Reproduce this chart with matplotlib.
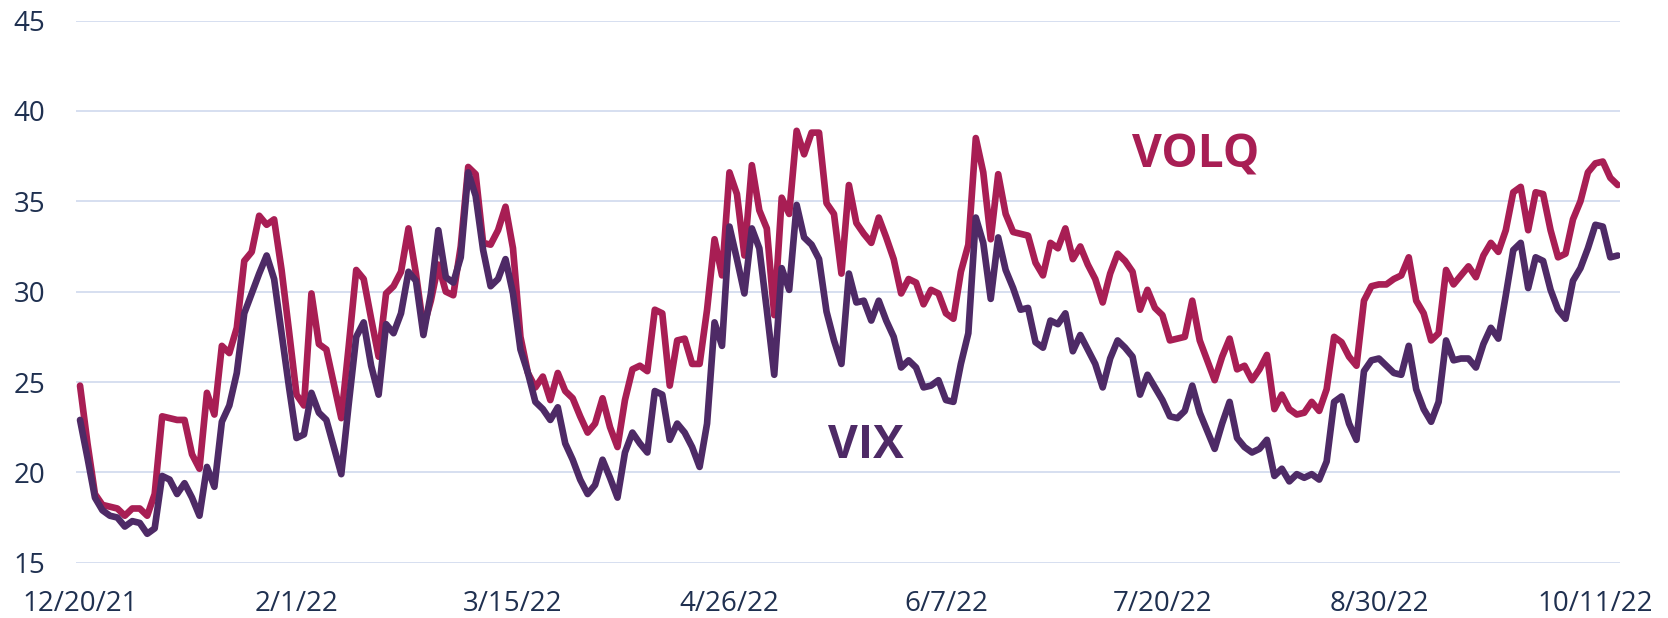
import matplotlib
matplotlib.use("Agg")
import matplotlib.pyplot as plt
import numpy as np

# ---- data (daily closes) ----
tick_labels = ["12/20/21", "2/1/22", "3/15/22", "4/26/22", "6/7/22",
               "7/20/22", "8/30/22", "10/11/22"]
tick_step = 29  # trading days between labelled dates

volq = [
    24.8, 21.6, 18.8, 18.2, 18.1, 18.0, 17.6, 18.0, 18.0, 17.6,
    18.8, 23.1, 23.0, 22.9, 22.9, 21.0, 20.2, 24.4, 23.2, 27.0,
    26.6, 28.0, 31.7, 32.2, 34.2, 33.7, 34.0, 31.2, 27.8, 24.3,
    23.7, 29.9, 27.1, 26.8, 24.9, 23.0, 27.0, 31.2, 30.7, 28.5,
    26.4, 29.9, 30.3, 31.1, 33.5, 31.0, 28.0, 29.5, 31.5, 30.0,
    29.8, 32.5, 36.9, 36.5, 32.7, 32.6, 33.4, 34.7, 32.4, 27.5,
    25.5, 24.7, 25.3, 24.0, 25.5, 24.5, 24.1, 23.1, 22.2, 22.7,
    24.1, 22.5, 21.4, 24.0, 25.7, 25.9, 25.6, 29.0, 28.8, 24.8,
    27.3, 27.4, 26.0, 26.0, 29.0, 32.9, 30.9, 36.6, 35.4, 32.0,
    37.0, 34.5, 33.5, 28.7, 35.2, 34.3, 38.9, 37.6, 38.8, 38.8,
    34.9, 34.3, 31.0, 35.9, 33.8, 33.2, 32.7, 34.1, 33.0, 31.8,
    29.9, 30.7, 30.5, 29.3, 30.1, 29.9, 28.8, 28.5, 31.1, 32.6,
    38.5, 36.6, 32.9, 36.5, 34.3, 33.3, 33.2, 33.1, 31.6, 30.9,
    32.7, 32.4, 33.5, 31.8, 32.5, 31.5, 30.7, 29.4, 31.0, 32.1,
    31.7, 31.1, 29.0, 30.1, 29.1, 28.7, 27.3, 27.4, 27.5, 29.5,
    27.3, 26.2, 25.1, 26.4, 27.4, 25.7, 25.9, 25.1, 25.7, 26.5,
    23.5, 24.3, 23.5, 23.2, 23.3, 23.9, 23.4, 24.6, 27.5, 27.2,
    26.4, 25.9, 29.5, 30.3, 30.4, 30.4, 30.7, 30.9, 31.9, 29.5,
    28.8, 27.3, 27.7, 31.2, 30.4, 30.9, 31.4, 30.8, 32.0, 32.7,
    32.2, 33.4, 35.5, 35.8, 33.4, 35.5, 35.4, 33.4, 31.9, 32.1,
    34.0, 35.0, 36.6, 37.1, 37.2, 36.3, 35.9,
]

vix = [
    22.9, 20.8, 18.6, 17.9, 17.6, 17.5, 17.0, 17.3, 17.2, 16.6,
    16.9, 19.8, 19.6, 18.8, 19.4, 18.6, 17.6, 20.3, 19.2, 22.8,
    23.7, 25.5, 28.8, 29.9, 31.0, 32.0, 30.7, 27.7, 24.7, 21.9,
    22.1, 24.4, 23.3, 22.9, 21.4, 19.9, 23.8, 27.5, 28.3, 25.9,
    24.3, 28.2, 27.7, 28.8, 31.1, 30.6, 27.6, 29.9, 33.4, 30.8,
    30.5, 31.9, 36.6, 35.3, 32.3, 30.3, 30.7, 31.8, 29.9, 26.8,
    25.5, 23.9, 23.5, 22.9, 23.6, 21.6, 20.7, 19.6, 18.8, 19.3,
    20.7, 19.7, 18.6, 21.1, 22.2, 21.6, 21.1, 24.5, 24.3, 21.8,
    22.7, 22.2, 21.4, 20.3, 22.7, 28.3, 27.0, 33.6, 31.8, 29.9,
    33.5, 32.4, 29.0, 25.4, 31.3, 30.1, 34.8, 33.0, 32.6, 31.8,
    28.9, 27.3, 26.0, 31.0, 29.4, 29.5, 28.4, 29.5, 28.4, 27.5,
    25.8, 26.2, 25.8, 24.7, 24.8, 25.1, 24.0, 23.9, 26.0, 27.7,
    34.1, 32.7, 29.6, 33.0, 31.2, 30.2, 29.0, 29.1, 27.2, 26.9,
    28.4, 28.2, 28.8, 26.7, 27.6, 26.8, 26.0, 24.7, 26.3, 27.3,
    26.9, 26.4, 24.3, 25.4, 24.7, 24.0, 23.1, 23.0, 23.4, 24.8,
    23.3, 22.3, 21.3, 22.7, 23.9, 21.9, 21.4, 21.1, 21.3, 21.8,
    19.8, 20.2, 19.5, 19.9, 19.7, 19.9, 19.6, 20.6, 23.9, 24.2,
    22.7, 21.8, 25.6, 26.2, 26.3, 25.9, 25.5, 25.4, 27.0, 24.6,
    23.5, 22.8, 23.9, 27.3, 26.2, 26.3, 26.3, 25.8, 27.1, 28.0,
    27.4, 29.8, 32.3, 32.7, 30.2, 31.9, 31.7, 30.1, 29.0, 28.5,
    30.6, 31.3, 32.4, 33.7, 33.6, 31.9, 32.0,
]

y_ticks = [15, 20, 25, 30, 35, 40, 45]

# ---- style ----
VOLQ_C = "#A81E54"
VIX_C = "#4E2A66"
TEXT_C = "#1F3050"
GRID_C = "#D6DFF0"
FONT = ["Open Sans", "DejaVu Sans"]

plt.rcParams["font.family"] = FONT

fig = plt.figure(figsize=(16.68, 6.18), dpi=100)
W, H = 1668, 618
left, right, top, bottom = 76, 1620, 20.6, 562.7
ax = fig.add_axes([left / W, 1 - bottom / H, (right - left) / W, (bottom - top) / H])

x = np.arange(len(volq))
ax.plot(x, volq, color=VOLQ_C, lw=4.8, solid_joinstyle="round",
        solid_capstyle="round", zorder=3)
ax.plot(np.arange(len(vix)), vix, color=VIX_C, lw=4.8, solid_joinstyle="round",
        solid_capstyle="round", zorder=4)

ax.set_xlim(-0.54, 206.3)
ax.set_ylim(15, 45)
ax.set_yticks(y_ticks)
ax.set_xticks(np.arange(len(tick_labels)) * tick_step)
ax.set_xticklabels(tick_labels)
ax.grid(axis="y", color=GRID_C, lw=1.4)
ax.grid(axis="x", visible=False)
ax.set_axisbelow(True)
for s in ax.spines.values():
    s.set_visible(False)
ax.tick_params(axis="both", length=0, labelsize=20, labelcolor=TEXT_C)
ax.tick_params(axis="y", pad=22)
ax.tick_params(axis="x", pad=20)

ax.text(140.9, 36.88, "VOLQ", color=VOLQ_C, fontsize=33, fontweight="bold",
        ha="left", va="baseline", family=FONT)
ax.text(100.2, 20.79, "VIX", color=VIX_C, fontsize=33, fontweight="bold",
        ha="left", va="baseline", family=FONT)

fig.savefig("out.png", dpi=100)
